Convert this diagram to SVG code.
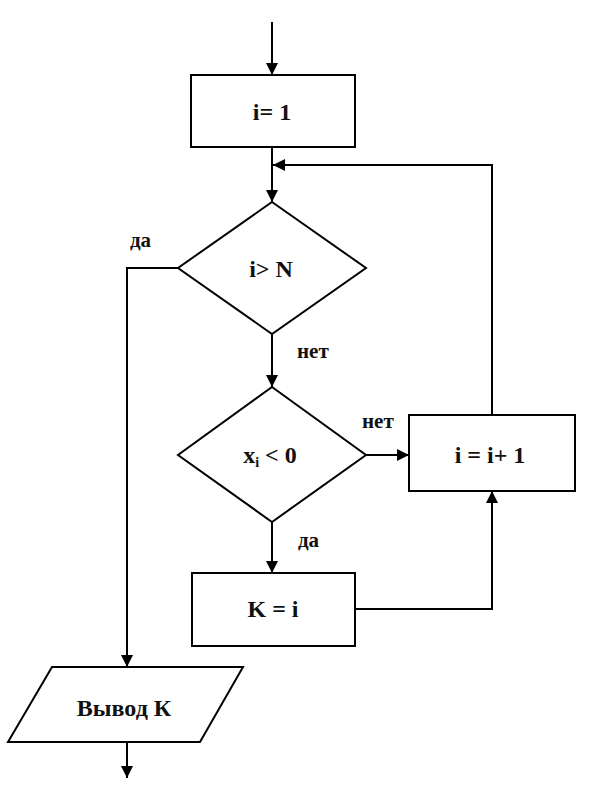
<svg xmlns="http://www.w3.org/2000/svg" width="594" height="796" viewBox="0 0 594 796">
<defs>
<marker id="arr" markerUnits="userSpaceOnUse" markerWidth="12" markerHeight="16" viewBox="0 0 12 16" refX="12" refY="6" orient="auto">
<path d="M0,0 L12,6 L0,12 Z" fill="#000"/>
</marker>
</defs>
<style>
.s{fill:#fff;stroke:#000;stroke-width:2}
.c{fill:none;stroke:#000;stroke-width:2}
text{font-family:'Liberation Serif','DejaVu Serif','Times New Roman',serif;font-weight:bold;fill:#111}
.t{font-size:24px;text-anchor:middle}
.l{font-size:21px}
</style>
<rect width="594" height="796" fill="#fff"/>
<g id="connectors">
<line class="c" x1="272" y1="22" x2="272" y2="75" marker-end="url(#arr)"/>
<line class="c" x1="272" y1="147" x2="272" y2="202" marker-end="url(#arr)"/>
<polyline class="c" points="492,415 492,165 273,165" marker-end="url(#arr)"/>
<polyline class="c" points="178,268 127,268 127,667" marker-end="url(#arr)"/>
<line class="c" x1="272" y1="334" x2="272" y2="387" marker-end="url(#arr)"/>
<line class="c" x1="366" y1="455" x2="409" y2="455" marker-end="url(#arr)"/>
<line class="c" x1="272" y1="522" x2="272" y2="573" marker-end="url(#arr)"/>
<polyline class="c" points="355,609 492,609 492,491" marker-end="url(#arr)"/>
<line class="c" x1="127" y1="742" x2="127" y2="778" marker-end="url(#arr)"/>
<text class="l" x="130" y="247">да</text>
<text class="l" x="297" y="358">нет</text>
<text class="l" x="362" y="428">нет</text>
<text class="l" x="298" y="547">да</text>
</g>
<g id="init">
<rect class="s" x="191" y="75" width="164" height="72"/>
<text class="t" x="272" y="120">i= 1</text>
</g>
<g id="cond1">
<polygon class="s" points="272,202 366,268 272,334 178,268"/>
<text class="t" x="271" y="277">i&gt; N</text>
</g>
<g id="cond2">
<polygon class="s" points="272,387 366,455 272,522 178,455"/>
<text class="t" x="270" y="463">x<tspan font-size="14" dy="4">i</tspan><tspan dy="-4"> &lt; 0</tspan></text>
</g>
<g id="inc">
<rect class="s" x="409" y="415" width="166" height="76"/>
<text class="t" x="490" y="463">i = i+ 1</text>
</g>
<g id="assign">
<rect class="s" x="192" y="573" width="163" height="73"/>
<text class="t" x="273" y="617">K = i</text>
</g>
<g id="output">
<polygon class="s" points="52,667 243,667 200,742 8,742"/>
<text class="t" x="124" y="716">Вывод К</text>
</g>
</svg>
